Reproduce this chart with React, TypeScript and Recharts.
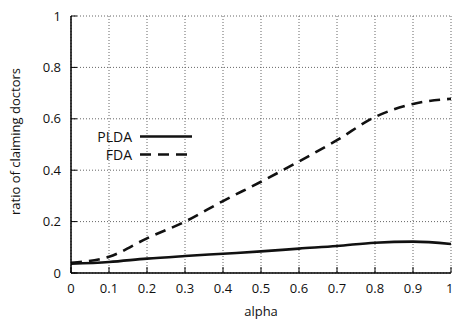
import React from "react";
import {
  LineChart,
  Line,
  XAxis,
  YAxis,
  CartesianGrid,
} from "recharts";

const alphas = [0, 0.1, 0.2, 0.3, 0.4, 0.5, 0.6, 0.7, 0.8, 0.9, 1];
const pldaValues = [0.036, 0.043, 0.056, 0.066, 0.075, 0.084, 0.095, 0.105, 0.118, 0.122, 0.113];
const fdaValues = [0.04, 0.063, 0.135, 0.2, 0.28, 0.355, 0.434, 0.517, 0.607, 0.658, 0.678];
const xTicks = [0, 0.1, 0.2, 0.3, 0.4, 0.5, 0.6, 0.7, 0.8, 0.9, 1];
const yTicks = [0, 0.2, 0.4, 0.6, 0.8, 1];
const seriesNames = ["PLDA", "FDA"];

const data = alphas.map((a, i) => ({
  alpha: a,
  PLDA: pldaValues[i],
  FDA: fdaValues[i],
}));

const FONT = "'Open Sans', sans-serif";
const fmt = (v: number) => String(v);

const LegendBox = () => (
  <div
    style={{
      position: "absolute",
      left: 86,
      top: 128,
      fontFamily: FONT,
      fontSize: 14,
      color: "#111",
    }}
  >
    {seriesNames.map((n, i) => (
      <div key={n} style={{ display: "flex", alignItems: "center", height: 17.5 }}>
        <span style={{ width: 46, textAlign: "right", lineHeight: "17px" }}>{n}</span>
        <svg width={60} height={17} style={{ marginLeft: 8, display: "block" }}>
          <line
            x1={0}
            x2={52}
            y1={8.5}
            y2={8.5}
            stroke="#111"
            strokeWidth={2.6}
            strokeDasharray={i === 1 ? "11 7" : undefined}
          />
        </svg>
      </div>
    ))}
  </div>
);

export default function App() {
  return (
    <div style={{ position: "absolute", left: 0, top: 0, width: 453, height: 322, background: "#fff" }}>
      <LineChart
        width={453}
        height={322}
        data={data}
        margin={{ top: 16, right: 2, left: 0, bottom: 0 }}
        style={{ fontFamily: FONT }}
      >
        <CartesianGrid
          xAxisId="b"
          yAxisId="l"
          stroke="#666"
          strokeDasharray="1 2"
        />
        <XAxis
          xAxisId="b"
          dataKey="alpha"
          type="number"
          domain={[0, 1]}
          ticks={xTicks}
          tickFormatter={fmt}
          height={49}
          tickSize={-6}
          tickMargin={17}
          axisLine={{ stroke: "#000", strokeWidth: 1.5 }}
          tickLine={{ stroke: "#000" }}
          tick={{ fill: "#111", fontSize: 13, fontFamily: FONT }}
          label={{
            value: "alpha",
            position: "insideBottom",
            offset: 6,
            fill: "#111",
            fontSize: 13,
            fontFamily: FONT,
          }}
        />
        <XAxis
          xAxisId="t"
          orientation="top"
          dataKey="alpha"
          type="number"
          domain={[0, 1]}
          ticks={xTicks}
          tickFormatter={() => ""}
          height={0}
          tickSize={-6}
          axisLine={{ stroke: "#000", strokeWidth: 1.5 }}
          tickLine={{ stroke: "#000" }}
        />
        <YAxis
          yAxisId="l"
          type="number"
          domain={[0, 1]}
          ticks={yTicks}
          tickFormatter={fmt}
          width={71}
          tickSize={-6}
          tickMargin={16}
          axisLine={{ stroke: "#000", strokeWidth: 1.5 }}
          tickLine={{ stroke: "#000" }}
          tick={{ fill: "#111", fontSize: 13, fontFamily: FONT }}
          label={{
            value: "ratio of claiming doctors",
            content: (props: any) => {
              const vb = props.viewBox || {};
              const cy = vb.y + vb.height / 2 - 3;
              return (
                <text
                  x={15}
                  y={cy}
                  transform={`rotate(-90, 15, ${cy})`}
                  textAnchor="middle"
                  dominantBaseline="central"
                  fill="#111"
                  fontSize={13}
                  fontFamily={FONT}
                >
                  ratio of claiming doctors
                </text>
              );
            },
          }}
        />
        <YAxis
          yAxisId="r"
          orientation="right"
          type="number"
          domain={[0, 1]}
          ticks={yTicks}
          tickFormatter={() => ""}
          width={0}
          tickSize={-6}
          axisLine={{ stroke: "#000", strokeWidth: 1.5 }}
          tickLine={{ stroke: "#000" }}
        />
        <Line
          xAxisId="b"
          yAxisId="l"
          type="monotone"
          dataKey="PLDA"
          stroke="#111"
          strokeWidth={2.6}
          dot={false}
          isAnimationActive={false}
        />
        <Line
          xAxisId="b"
          yAxisId="l"
          type="monotone"
          dataKey="FDA"
          stroke="#111"
          strokeWidth={2.6}
          strokeDasharray="11 7"
          dot={false}
          isAnimationActive={false}
        />
      </LineChart>
      <LegendBox />
    </div>
  );
}
